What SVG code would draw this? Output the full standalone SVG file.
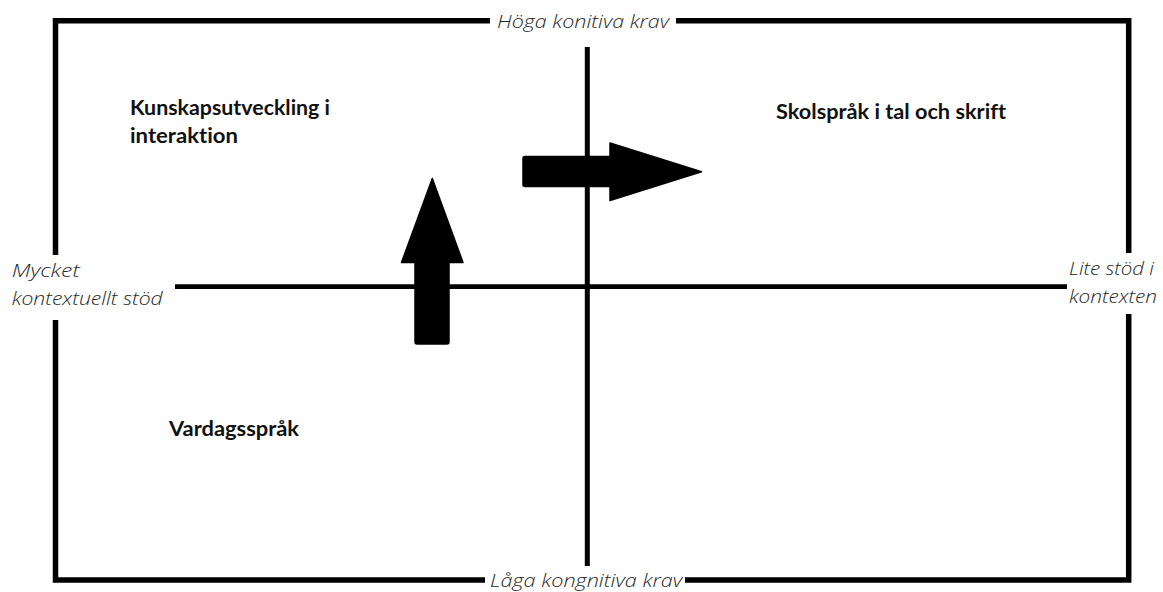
<svg xmlns="http://www.w3.org/2000/svg" width="1163" height="592" viewBox="0 0 1163 592">
  <style>
    .frame { stroke: #000; stroke-width: 5.5; fill: none; stroke-linecap: butt; }
    .axis { stroke: #000; stroke-width: 5; fill: none; }
    .arrow { fill: #000; stroke: #000; stroke-width: 1.5; stroke-linejoin: round; }
    .title { font-family: Lato, "Open Sans", "Liberation Sans", sans-serif; font-weight: bold; font-size: 21.5px; fill: #111; font-variant-ligatures: none; }
    .axislabel { font-family: "Open Sans", Lato, "Liberation Sans", sans-serif; font-style: italic; font-weight: 300; font-size: 19px; fill: #262626; font-variant-ligatures: none; }
  </style>
  <rect width="1163" height="592" fill="#fff"/>

  <g id="frame">
    <path class="frame" d="M490 20.8 H55.5 V255 M55.5 320 V580 H485 M685 580 H1128.7 V314 M1128.7 253 V20.8 H676"/>
  </g>

  <g id="axes">
    <line class="axis" x1="587.3" y1="47" x2="587.3" y2="566"/>
    <line class="axis" x1="175" y1="286.6" x2="1067" y2="286.6" style="stroke-width:4.6"/>
  </g>

  <g id="connectors">
    <path id="arrow-right" class="arrow" d="M525 156.5 H610 V143 L701.5 171.7 L610 200.5 V186.5 H525 Q523 186.5 523 184.5 V158.5 Q523 156.5 525 156.5 Z"/>
    <path id="arrow-up" class="arrow" d="M432.3 178.5 L463 262.5 H449 V342 Q449 344 447 344 H417 Q415 344 415 342 V262.5 H401.5 Z"/>
  </g>

  <g id="label-top">
    <text class="axislabel" x="497" y="28.3" textLength="172" lengthAdjust="spacingAndGlyphs">Höga konitiva krav</text>
  </g>
  <g id="label-bottom">
    <text class="axislabel" x="490" y="586.5" textLength="192" lengthAdjust="spacingAndGlyphs">Låga kongnitiva krav</text>
  </g>
  <g id="label-left">
    <text class="axislabel" x="11.7" y="276.7" textLength="68" lengthAdjust="spacingAndGlyphs">Mycket</text>
    <text class="axislabel" x="11.7" y="305" textLength="151" lengthAdjust="spacingAndGlyphs">kontextuellt stöd</text>
  </g>
  <g id="label-right">
    <text class="axislabel" x="1069" y="275" textLength="85" lengthAdjust="spacingAndGlyphs">Lite stöd i</text>
    <text class="axislabel" x="1069" y="303" textLength="88" lengthAdjust="spacingAndGlyphs">kontexten</text>
  </g>

  <g id="node-kunskap">
    <text class="title" x="130" y="115" textLength="200" lengthAdjust="spacingAndGlyphs">Kunskapsutveckling i</text>
    <text class="title" x="130" y="143" textLength="108" lengthAdjust="spacingAndGlyphs">interaktion</text>
  </g>
  <g id="node-skolsprak">
    <text class="title" x="776" y="118.5" textLength="230" lengthAdjust="spacingAndGlyphs">Skolspråk i tal och skrift</text>
  </g>
  <g id="node-vardag">
    <text class="title" x="169" y="436" textLength="130" lengthAdjust="spacingAndGlyphs">Vardagsspråk</text>
  </g>
</svg>
